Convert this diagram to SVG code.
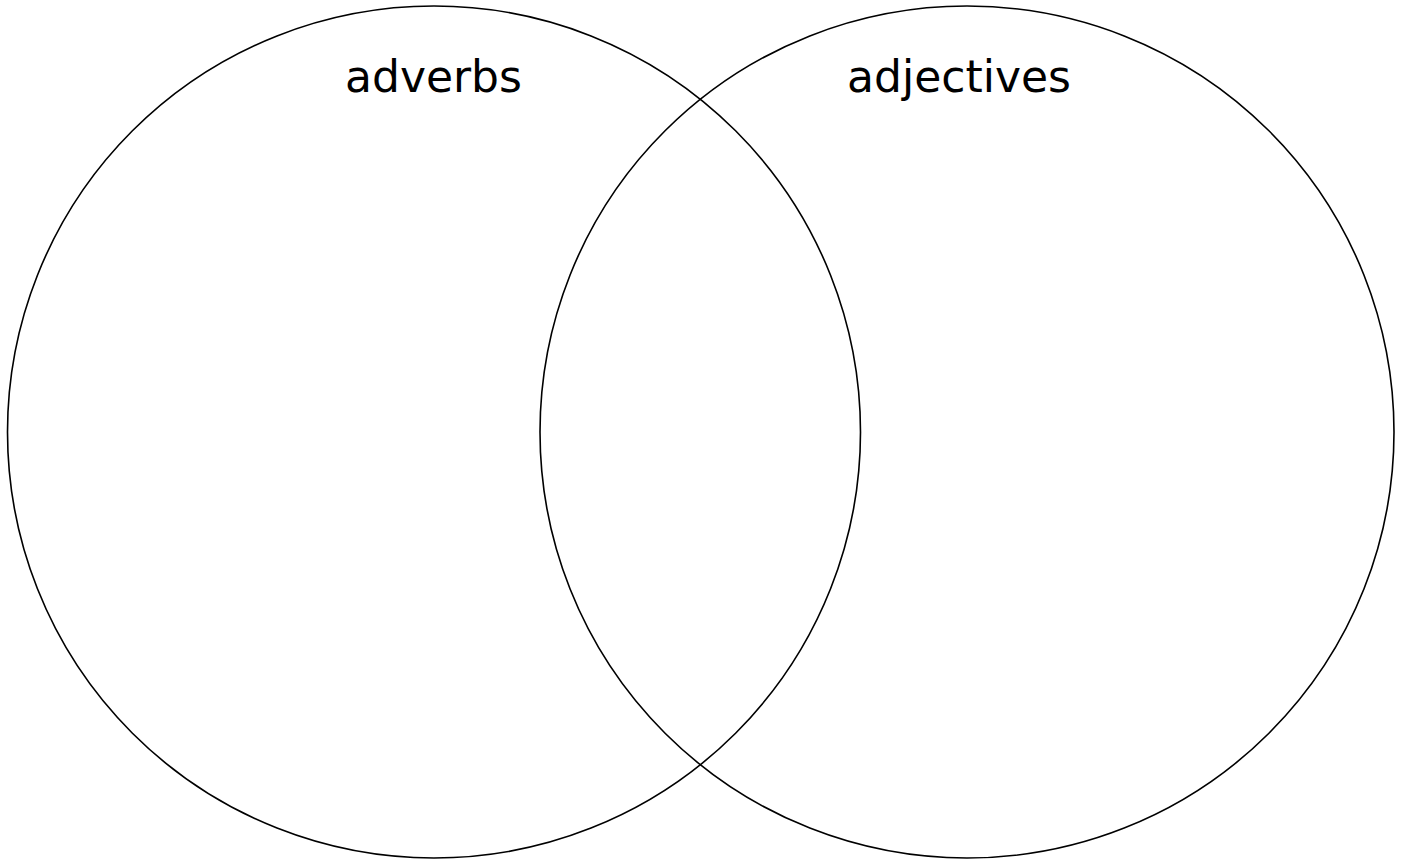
<svg xmlns="http://www.w3.org/2000/svg" width="1406" height="861" viewBox="0 0 1406 861">
<style>
.c{fill:none;stroke:#000;stroke-width:1.6}
.t{font-family:"DejaVu Sans",sans-serif;font-size:44px;fill:#000;text-anchor:middle}
</style>
<rect width="1406" height="861" fill="#fff"/>
<g id="adverbs">
<ellipse class="c" cx="434" cy="432" rx="426.5" ry="426"/>
<text class="t" x="433.5" y="92">adverbs</text>
</g>
<g id="adjectives">
<ellipse class="c" cx="967" cy="432" rx="427" ry="426"/>
<text class="t" x="959" y="92">adjectives</text>
</g>
<g id="connectors"></g>
</svg>
